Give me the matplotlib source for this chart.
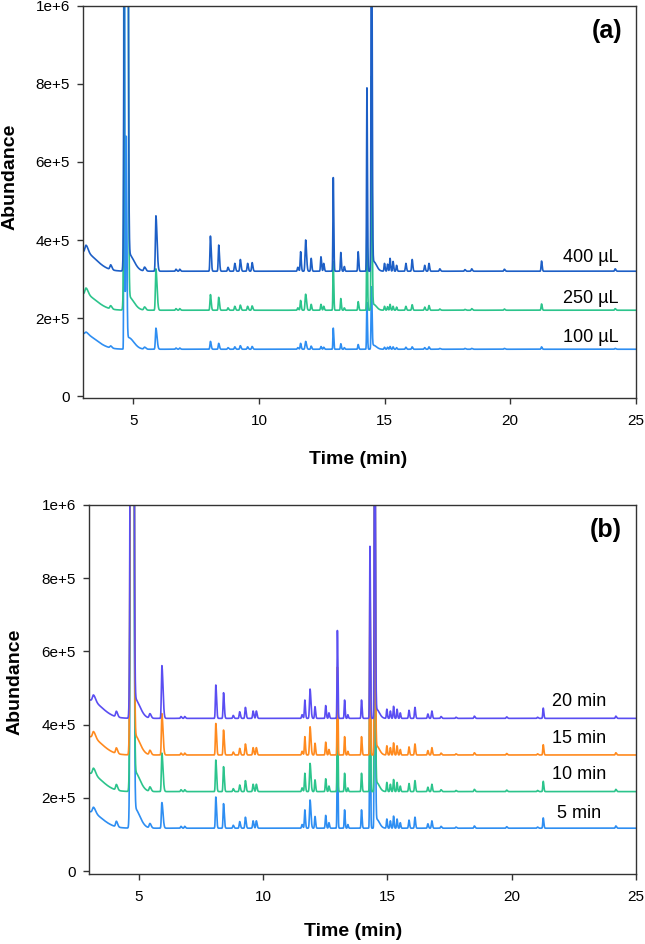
import numpy as np
import matplotlib
matplotlib.use("Agg")
import matplotlib.pyplot as plt

plt.rcParams['font.family'] = ['Liberation Sans', 'DejaVu Sans']

# ---- panel (a): peak table (retention time, left/right width) ----
rt_a = [3.0, 3.12, 4.1, 4.64, 4.72, 4.72, 4.80, 5.45, 5.90, 6.70, 6.85,
        8.07, 8.40, 8.77, 9.04, 9.26, 9.55, 9.73, 11.55, 11.66, 11.86,
        12.08, 12.47, 12.58, 12.96, 13.26, 13.40, 13.95, 14.30, 14.48, 14.56,
        15.00, 15.12, 15.22, 15.34, 15.48, 15.85, 16.10, 16.60, 16.77,
        17.20, 18.20, 18.47, 19.77, 21.25, 24.18]
sl_a = [0.30, 0.04, 0.03, 0.012, 0.040, 0.020, 0.03, 0.03, 0.020, 0.02, 0.02,
        0.018, 0.018, 0.02, 0.02, 0.02, 0.02, 0.02, 0.02, 0.018, 0.022,
        0.018, 0.018, 0.018, 0.014, 0.016, 0.016, 0.016, 0.014, 0.016, 0.02,
        0.018, 0.018, 0.018, 0.018, 0.018, 0.02, 0.02, 0.02, 0.02,
        0.02, 0.02, 0.02, 0.02, 0.018, 0.02]
sr_a = [0.50, 0.08, 0.05, 0.015, 0.040, 0.025, 0.22, 0.05, 0.045, 0.03, 0.03,
        0.030, 0.030, 0.03, 0.03, 0.03, 0.03, 0.03, 0.03, 0.025, 0.035,
        0.025, 0.025, 0.025, 0.020, 0.022, 0.022, 0.024, 0.020, 0.025, 0.12,
        0.022, 0.022, 0.022, 0.022, 0.022, 0.025, 0.025, 0.025, 0.025,
        0.03, 0.03, 0.03, 0.03, 0.024, 0.03]
# heights above baseline (x 1e6)
h_400 = [0.050, 0.018, 0.012, 0.0, 8.0, 0.0, 0.045, 0.010, 0.142, 0.005, 0.005,
         0.090, 0.067, 0.010, 0.020, 0.030, 0.020, 0.022, 0.010, 0.050, 0.080,
         0.033, 0.037, 0.020, 0.240, 0.048, 0.012, 0.050, 0.470, 1.200, 0.025,
         0.020, 0.018, 0.033, 0.025, 0.015, 0.020, 0.030, 0.015, 0.020,
         0.006, 0.004, 0.006, 0.005, 0.026, 0.006]
h_250 = [0.042, 0.016, 0.008, 0.0, 8.0, 0.0, 0.035, 0.008, 0.106, 0.004, 0.004,
         0.040, 0.033, 0.006, 0.010, 0.013, 0.010, 0.011, 0.006, 0.025, 0.041,
         0.015, 0.015, 0.010, 0.125, 0.030, 0.006, 0.022, 0.250, 0.600, 0.015,
         0.010, 0.009, 0.015, 0.010, 0.008, 0.010, 0.014, 0.008, 0.012,
         0.003, 0.002, 0.004, 0.003, 0.016, 0.004]
h_100 = [0.040, 0.005, 0.005, 3.0, 0.0, 0.545, 0.030, 0.005, 0.054, 0.003, 0.003,
         0.020, 0.015, 0.004, 0.006, 0.009, 0.006, 0.007, 0.004, 0.015, 0.020,
         0.008, 0.007, 0.005, 0.054, 0.014, 0.004, 0.012, 0.120, 0.160, 0.010,
         0.005, 0.005, 0.007, 0.006, 0.004, 0.005, 0.006, 0.004, 0.006,
         0.002, 0.002, 0.002, 0.002, 0.006, 0.002]
base_a = [0.32, 0.22, 0.12]
labels_a = ['400 µL', '250 µL', '100 µL']
label_y_a = [0.354, 0.251, 0.149]
colors_a = ['#1d5fc6', '#2cc48c', '#2e8ef2']

# ---- panel (b): peak table ----
rt_b = [3.0, 3.18, 4.1, 4.735, 4.82, 5.45, 5.93, 6.70, 6.85,
        8.10, 8.41, 8.80, 9.06, 9.29, 9.60, 9.73, 11.57, 11.68, 11.89,
        12.09, 12.52, 12.65, 12.99, 13.28, 13.41, 13.96, 14.30, 14.49, 14.56,
        14.98, 15.12, 15.25, 15.39, 15.52, 15.87, 16.11, 16.63, 16.79,
        17.16, 17.76, 18.50, 19.80, 21.04, 21.27, 24.19]
sl_b = [0.30, 0.04, 0.03, 0.040, 0.03, 0.03, 0.020, 0.02, 0.02,
        0.018, 0.018, 0.02, 0.02, 0.02, 0.02, 0.02, 0.02, 0.018, 0.022,
        0.018, 0.018, 0.018, 0.014, 0.016, 0.016, 0.016, 0.014, 0.016, 0.02,
        0.018, 0.018, 0.018, 0.018, 0.018, 0.02, 0.02, 0.02, 0.02,
        0.02, 0.02, 0.02, 0.02, 0.02, 0.018, 0.02]
sr_b = [0.50, 0.08, 0.05, 0.040, 0.22, 0.05, 0.045, 0.03, 0.03,
        0.030, 0.030, 0.03, 0.03, 0.03, 0.03, 0.03, 0.03, 0.025, 0.035,
        0.025, 0.025, 0.025, 0.020, 0.022, 0.022, 0.024, 0.020, 0.025, 0.12,
        0.022, 0.022, 0.022, 0.022, 0.022, 0.025, 0.025, 0.025, 0.025,
        0.03, 0.03, 0.03, 0.03, 0.03, 0.024, 0.03]
h_20 = [0.050, 0.017, 0.015, 8.0, 0.055, 0.012, 0.144, 0.005, 0.005,
        0.091, 0.070, 0.008, 0.018, 0.030, 0.020, 0.020, 0.010, 0.050, 0.080,
        0.032, 0.035, 0.015, 0.240, 0.050, 0.010, 0.050, 0.470, 1.200, 0.025,
        0.025, 0.020, 0.033, 0.025, 0.015, 0.022, 0.030, 0.012, 0.020,
        0.005, 0.003, 0.006, 0.004, 0.003, 0.028, 0.006]
h_15 = [0.050, 0.017, 0.015, 8.0, 0.055, 0.012, 0.113, 0.005, 0.005,
        0.086, 0.068, 0.008, 0.018, 0.030, 0.020, 0.020, 0.010, 0.050, 0.077,
        0.032, 0.035, 0.015, 0.240, 0.050, 0.010, 0.050, 0.470, 1.100, 0.025,
        0.025, 0.020, 0.033, 0.025, 0.015, 0.022, 0.030, 0.012, 0.020,
        0.005, 0.003, 0.006, 0.004, 0.003, 0.028, 0.006]
h_10 = [0.050, 0.017, 0.015, 8.0, 0.055, 0.012, 0.105, 0.005, 0.005,
        0.086, 0.068, 0.008, 0.018, 0.030, 0.020, 0.020, 0.010, 0.050, 0.077,
        0.032, 0.035, 0.015, 0.240, 0.050, 0.010, 0.050, 0.470, 1.100, 0.025,
        0.025, 0.020, 0.033, 0.025, 0.015, 0.022, 0.030, 0.012, 0.020,
        0.005, 0.003, 0.006, 0.004, 0.003, 0.028, 0.006]
h_5 = [0.045, 0.015, 0.015, 8.0, 0.055, 0.012, 0.070, 0.005, 0.005,
       0.085, 0.067, 0.008, 0.018, 0.030, 0.020, 0.020, 0.010, 0.050, 0.077,
       0.032, 0.035, 0.015, 0.240, 0.050, 0.010, 0.050, 0.470, 1.100, 0.025,
       0.025, 0.020, 0.033, 0.025, 0.015, 0.022, 0.030, 0.012, 0.020,
       0.005, 0.003, 0.006, 0.004, 0.003, 0.028, 0.006]
base_b = [0.417, 0.317, 0.217, 0.117]
labels_b = ['20 min', '15 min', '10 min', '5 min']
label_y_b = [0.462, 0.361, 0.265, 0.158]
colors_b = ['#5a4ef2', '#ff8a1e', '#2cc48c', '#2e8ef2']

yticks = [0, 2e5, 4e5, 6e5, 8e5, 1e6]
ytick_labels = ['0', '2e+5', '4e+5', '6e+5', '8e+5', '1e+6']
xticks = [5, 10, 15, 20, 25]

t = np.linspace(3, 25, 8801)


def trace(base, rts, sls, srs, heights):
    y = np.full_like(t, base)
    for rt, sl, sr, h in zip(rts, sls, srs, heights):
        s = np.where(t < rt, sl, sr)
        y += h * np.exp(-0.5 * ((t - rt) / s) ** 2)
    return y * 1e6


def style_axes(ax, ymin):
    ax.set_xlim(3, 25)
    ax.set_ylim(ymin, 1e6)
    ax.set_xticks(xticks)
    ax.set_yticks(yticks)
    ax.set_yticklabels(ytick_labels)
    for sp in ax.spines.values():
        sp.set_color('#333333')
        sp.set_linewidth(1.0)
    ax.tick_params(axis='both', direction='out', length=4.5, width=1.0,
                   color='#333333', labelsize=11)
    ax.tick_params(axis='x', pad=7)
    ax.tick_params(axis='y', pad=5)


fig = plt.figure(figsize=(6.45, 9.44), dpi=100)

# panel (a)
ax1 = fig.add_axes([0.1287, 0.5784, 0.857, 0.4153])
heights_a = [h_400, h_250, h_100]
for i in [2, 1, 0]:
    y = trace(base_a[i], rt_a, sl_a, sr_a, heights_a[i])
    ax1.plot(t, y, color=colors_a[i], lw=1.2)
    ax1.text(23.2, label_y_a[i] * 1e6, labels_a[i], fontsize=13,
             ha='center', va='center')
style_axes(ax1, -5000)
ax1.set_xlabel('Time (min)', fontsize=14, fontweight='bold')
ax1.set_ylabel('Abundance', fontsize=14, fontweight='bold')
ax1.xaxis.set_label_coords(0.498, -0.135)
ax1.yaxis.set_label_coords(-0.116, 0.564)
ax1.text(0.948, 0.936, '(a)', transform=ax1.transAxes, fontsize=18,
         fontweight='bold', ha='center', va='center')

# panel (b)
ax2 = fig.add_axes([0.138, 0.0742, 0.848, 0.3909])
heights_b = [h_20, h_15, h_10, h_5]
for i in [3, 2, 1, 0]:
    y = trace(base_b[i], rt_b, sl_b, sr_b, heights_b[i])
    ax2.plot(t, y, color=colors_b[i], lw=1.2)
    ax2.text(22.7, label_y_b[i] * 1e6, labels_b[i], fontsize=13,
             ha='center', va='center')
style_axes(ax2, -8000)
ax2.set_xlabel('Time (min)', fontsize=14, fontweight='bold')
ax2.set_ylabel('Abundance', fontsize=14, fontweight='bold')
ax2.xaxis.set_label_coords(0.483, -0.133)
ax2.yaxis.set_label_coords(-0.119, 0.521)
ax2.text(0.945, 0.932, '(b)', transform=ax2.transAxes, fontsize=18,
         fontweight='bold', ha='center', va='center')

fig.savefig('out.png', dpi=100)
